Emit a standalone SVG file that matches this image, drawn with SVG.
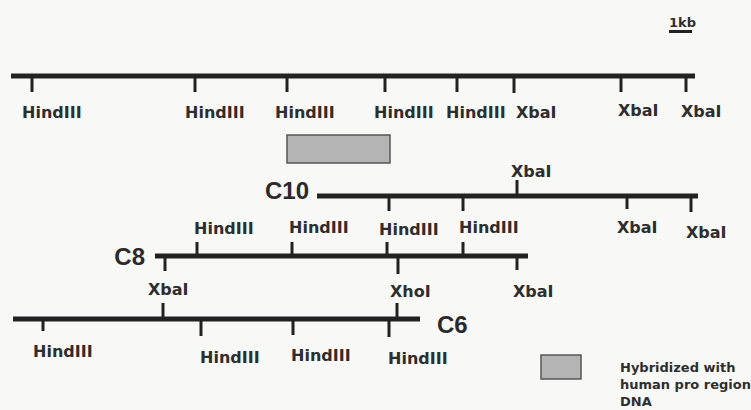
<svg xmlns="http://www.w3.org/2000/svg" width="751" height="410" viewBox="0 0 751 410">
  <style>
    .map { stroke: #222; stroke-width: 5; fill: none; }
    .tick { stroke: #222; stroke-width: 3; fill: none; }
    .site { font-family: "DejaVu Sans", "Liberation Sans", sans-serif; font-weight: bold; font-size: 16px; fill: #2e2e2e; }
    .clone { font-family: "Liberation Sans", Arial, sans-serif; font-weight: bold; font-size: 24px; fill: #2a2a2a; }
    .legend { font-family: "DejaVu Sans", "Liberation Sans", sans-serif; font-weight: bold; font-size: 13px; fill: #2e2e2e; }
    .probe { fill: #b4b4b4; stroke: #555; stroke-width: 1.5; }
  </style>
  <rect width="751" height="410" fill="#f8f8f6"/>

  <!-- scale bar -->
  <g id="scale">
    <text class="legend" x="669" y="27" font-size="12">1kb</text>
    <line x1="669" y1="31.5" x2="692" y2="31.5" stroke="#222" stroke-width="3"/>
  </g>

  <!-- genomic map -->
  <g id="genomic">
    <line class="map" x1="11" y1="76" x2="695" y2="76"/>
    <path class="tick" d="M32 76V92 M195 76V92 M287 76V92 M385 76V92 M457 76V92 M514 76V93 M621 76V92 M686 76V92"/>
    <text class="site" x="22" y="118">HindIII</text>
    <text class="site" x="185" y="118">HindIII</text>
    <text class="site" x="275" y="118">HindIII</text>
    <text class="site" x="374" y="118">HindIII</text>
    <text class="site" x="446" y="118">HindIII</text>
    <text class="site" x="516" y="118">XbaI</text>
    <text class="site" x="618" y="116">XbaI</text>
    <text class="site" x="681" y="117">XbaI</text>
  </g>

  <!-- region hybridizing with the probe -->
  <g id="probe-region">
    <rect class="probe" x="287" y="135" width="103" height="28"/>
  </g>

  <!-- clone C10 -->
  <g id="C10">
    <text class="clone" x="309" y="199" text-anchor="end">C10</text>
    <line class="map" x1="317" y1="196" x2="698" y2="196"/>
    <path class="tick" d="M517 196V180 M389 196V211 M463 196V211 M627 196V209 M691 196V212"/>
    <text class="site" x="511" y="177">XbaI</text>
    <text class="site" x="617" y="233">XbaI</text>
    <text class="site" x="686" y="238">XbaI</text>
  </g>

  <!-- HindIII sites shared by C10 and C8 -->
  <g id="shared-hind">
    <text class="site" x="194" y="234">HindIII</text>
    <text class="site" x="289" y="233">HindIII</text>
    <text class="site" x="379" y="235">HindIII</text>
    <text class="site" x="459" y="233">HindIII</text>
  </g>

  <!-- clone C8 -->
  <g id="C8">
    <text class="clone" x="145" y="265" text-anchor="end">C8</text>
    <line class="map" x1="155" y1="256" x2="528" y2="256"/>
    <path class="tick" d="M197 256V242 M292 256V242 M387 256V242 M463 256V242 M165 256V271 M398 256V274 M517 256V270"/>
  </g>

  <!-- XbaI / XhoI sites shared by C8 and C6 -->
  <g id="shared-xba">
    <text class="site" x="148" y="295">XbaI</text>
    <text class="site" x="390" y="297">XhoI</text>
    <text class="site" x="513" y="297">XbaI</text>
  </g>

  <!-- clone C6 -->
  <g id="C6">
    <line class="map" x1="13" y1="319" x2="420" y2="319"/>
    <path class="tick" d="M163 319V303 M397 319V303 M43 319V331 M201 319V336 M293 319V335 M389 319V337"/>
    <text class="clone" x="437" y="333">C6</text>
    <text class="site" x="33" y="357">HindIII</text>
    <text class="site" x="200" y="363">HindIII</text>
    <text class="site" x="291" y="361">HindIII</text>
    <text class="site" x="388" y="364">HindIII</text>
  </g>

  <!-- legend -->
  <g id="legend">
    <rect class="probe" x="541" y="355" width="40" height="24"/>
    <text class="legend" x="620" y="372">Hybridized with</text>
    <text class="legend" x="620" y="389">human pro region</text>
    <text class="legend" x="620" y="406">DNA</text>
  </g>
</svg>
